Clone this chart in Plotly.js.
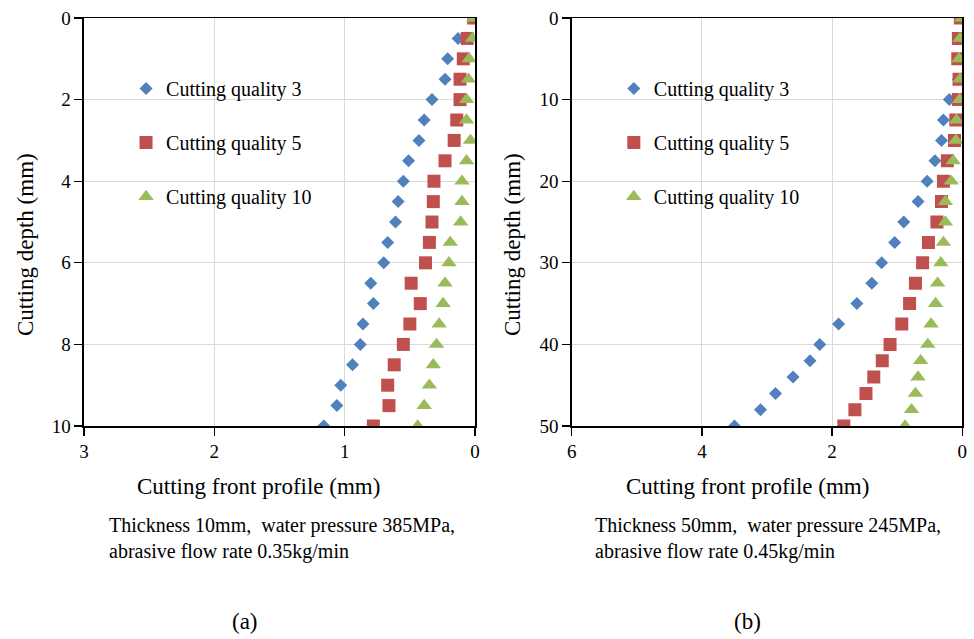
<!DOCTYPE html>
<html>
<head>
<meta charset="utf-8">
<script src="https://cdn.plot.ly/plotly-3.0.1.min.js"></script>
<style>html,body{margin:0;padding:0;background:#fff;}#chart{width:974px;height:639px;}</style>
</head>
<body>
<div id="chart"></div>
<script>
// ---- data (a) ----
var depthA = [0,0.5,1,1.5,2,2.5,3,3.5,4,4.5,5,5.5,6,6.5,7,7.5,8,8.5,9,9.5,10];
var q3A  = [0.01,0.13,0.21,0.23,0.33,0.39,0.43,0.51,0.55,0.59,0.61,0.67,0.70,0.80,0.78,0.86,0.88,0.94,1.03,1.06,1.16];
var q5A  = [0.01,0.06,0.09,0.115,0.115,0.14,0.16,0.23,0.315,0.32,0.33,0.35,0.38,0.49,0.42,0.50,0.55,0.62,0.67,0.66,0.78];
var q10A = [0.01,0.02,0.045,0.05,0.065,0.065,0.035,0.065,0.10,0.10,0.11,0.19,0.20,0.23,0.245,0.275,0.295,0.32,0.35,0.39,0.44];
// ---- data (b) ----
var depthB = [0,2.5,5,7.5,10,12.5,15,17.5,20,22.5,25,27.5,30,32.5,35,37.5,40,42,44,46,48,50];
var q3B  = [0.01,0.03,0.03,0.06,0.20,0.29,0.32,0.42,0.54,0.68,0.90,1.04,1.24,1.39,1.62,1.90,2.19,2.34,2.60,2.87,3.10,3.50];
var q5B  = [0.03,0.06,0.07,0.05,0.06,0.10,0.12,0.23,0.29,0.32,0.39,0.52,0.61,0.72,0.81,0.93,1.11,1.23,1.36,1.48,1.65,1.82];
var q10B = [0.01,0.035,0.05,0.035,0.04,0.09,0.10,0.14,0.17,0.26,0.26,0.29,0.33,0.38,0.41,0.48,0.53,0.64,0.68,0.72,0.78,0.88];

var seriesNames = ["Cutting quality 3","Cutting quality 5","Cutting quality 10"];
var xTicksA = [3,2,1,0], yTicksA = [0,2,4,6,8,10];
var xTicksB = [6,4,2,0], yTicksB = [0,10,20,30,40,50];

var colors = ["#4F81BD","#C0504D","#9BBB59"];
var symbols = ["diamond","square","triangle-up"];
var sizes = [10,13,13.5];
var FONT = "Liberation Serif";

function mk(x, y, i, xa, ya, leg, grp){
  return {x:x, y:y, type:"scatter", mode:"markers", name:seriesNames[i],
    xaxis:xa, yaxis:ya, legend:leg, legendgroup:grp,
    marker:{symbol:symbols[i], color:colors[i], size:sizes[i], line:{width:0}}};
}
var data = [
  mk(q3A, depthA, 0, "x", "y", "legend", "a0"),
  mk(q5A, depthA, 1, "x", "y", "legend", "a1"),
  mk(q10A, depthA, 2, "x", "y", "legend", "a2"),
  mk(q3B, depthB, 0, "x2", "y2", "legend2", "b0"),
  mk(q5B, depthB, 1, "x2", "y2", "legend2", "b1"),
  mk(q10B, depthB, 2, "x2", "y2", "legend2", "b2")
];

function xax(dom, ticks){
  return {domain:dom, range:[ticks[0],0], tickvals:ticks, ticktext:ticks.map(String),
    showline:true, mirror:true, linecolor:"#000", linewidth:1.5,
    ticks:"outside", ticklen:8, tickwidth:1.3, tickcolor:"#000",
    showgrid:true, gridcolor:"#d9d9d9", gridwidth:1, zeroline:false,
    tickfont:{family:FONT, size:19, color:"#000"}};
}
function yax(ticks, anchor){
  return {domain:[0.3333,0.9718], range:[ticks[ticks.length-1],0], tickvals:ticks, ticktext:ticks.map(String),
    anchor:anchor,
    showline:true, mirror:true, linecolor:"#000", linewidth:1.5,
    ticks:"outside", ticklen:8, tickwidth:1.3, tickcolor:"#000",
    showgrid:true, gridcolor:"#d9d9d9", gridwidth:1, zeroline:false,
    tickfont:{family:FONT, size:19, color:"#000"}};
}
function leg(xl){
  return {x:xl, xanchor:"left", y:0.892, yanchor:"top", bgcolor:"rgba(255,255,255,0)",
    borderwidth:0, font:{family:FONT, size:20, color:"#000"},
    traceorder:"grouped", tracegroupgap:25, itemsizing:"trace"};
}
var ann = [];
function A(text, x, y, size, opts){
  var a = {text:text, x:x, y:y, xref:"paper", yref:"paper", showarrow:false,
    font:{family:FONT, size:size, color:"#000"}, xanchor:"center", yanchor:"middle"};
  for (var k in (opts||{})) a[k] = opts[k];
  ann.push(a);
}
A("Cutting front profile (mm)", 0.2659, 0.2385, 23);
A("Cutting front profile (mm)", 0.767, 0.2385, 23);
A("Cutting depth (mm)", 0.0267, 0.6166, 23, {textangle:-90});
A("Cutting depth (mm)", 0.5267, 0.6166, 23, {textangle:-90});
A("Thickness 10mm,&nbsp; water pressure 385MPa,<br>abrasive flow rate 0.35kg/min", 0.1095, 0.1567, 20, {xanchor:"left", align:"left"});
A("Thickness 50mm,&nbsp; water pressure 245MPa,<br>abrasive flow rate 0.45kg/min", 0.6089, 0.1567, 20, {xanchor:"left", align:"left"});
A("(a)", 0.2515, 0.0271, 23);
A("(b)", 0.7677, 0.0271, 23);

var shapes = [
  {type:"rect", xref:"paper", yref:"paper", x0:0.0945, x1:0.3727, y0:0.6244, y1:0.9264,
   fillcolor:"#fff", line:{width:0}, layer:"between"},
  {type:"rect", xref:"paper", yref:"paper", x0:0.5952, x1:0.8734, y0:0.6244, y1:0.9264,
   fillcolor:"#fff", line:{width:0}, layer:"between"}
];

var layout = {
  width:974, height:639, margin:{l:0,r:0,t:0,b:0},
  paper_bgcolor:"#fff", plot_bgcolor:"#fff",
  showlegend:true,
  xaxis: xax([0.0862,0.4877], xTicksA),
  yaxis: yax(yTicksA, "x"),
  xaxis2: xax([0.587,0.988], xTicksB),
  yaxis2: yax(yTicksB, "x2"),
  legend: leg(0.1294),
  legend2: leg(0.6302),
  annotations: ann,
  shapes: shapes
};
layout.xaxis2.anchor = "y2";
layout.xaxis.anchor = "y";
Plotly.newPlot("chart", data, layout, {staticPlot:true});
</script>
</body>
</html>
